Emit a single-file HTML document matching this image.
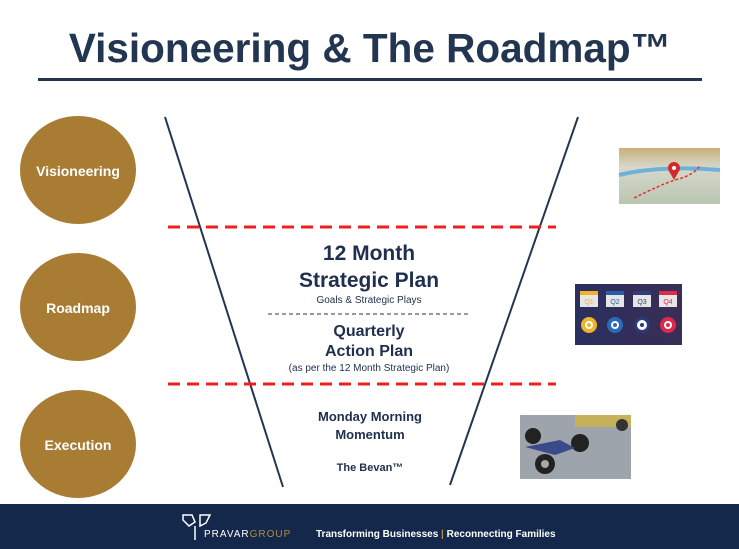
<!DOCTYPE html>
<html><head><meta charset="utf-8"><style>
html,body{margin:0;padding:0;background:#fff;}
body{width:739px;height:549px;overflow:hidden;position:relative;font-family:"Liberation Sans",sans-serif;}
</style></head><body>
<svg width="739" height="549" viewBox="0 0 739 549" xmlns="http://www.w3.org/2000/svg" style="position:absolute;left:0;top:0">
<defs>
<linearGradient id="q" x1="0" x2="1"><stop offset="0" stop-color="#2a2f5e"/><stop offset="1" stop-color="#3a2e55"/></linearGradient>
<linearGradient id="m" x1="0" y1="0" x2="0" y2="1"><stop offset="0" stop-color="#c9b078"/><stop offset="0.35" stop-color="#d6d8cc"/><stop offset="1" stop-color="#b9c6b0"/></linearGradient>
</defs>
<text x="370" y="62" text-anchor="middle" font-family="Liberation Sans" font-weight="bold" font-size="40.5" fill="#233651">Visioneering &amp; The Roadmap™</text>
<rect x="38" y="78" width="664" height="3" fill="#233651"/>

<g fill="#a97c34">
<ellipse cx="78" cy="170" rx="58" ry="54"/>
<ellipse cx="78" cy="307" rx="58" ry="54"/>
<ellipse cx="78" cy="444" rx="58" ry="54"/>
</g>
<g font-family="Liberation Sans" font-weight="bold" font-size="14" fill="#fff" text-anchor="middle">
<text x="78" y="176">Visioneering</text>
<text x="78" y="313">Roadmap</text>
<text x="78" y="450">Execution</text>
</g>

<line x1="165" y1="117" x2="283" y2="487" stroke="#233651" stroke-width="2"/>
<line x1="578" y1="117" x2="450" y2="485" stroke="#233651" stroke-width="2"/>
<line x1="168" y1="227" x2="556" y2="227" stroke="#f01e1e" stroke-width="3" stroke-dasharray="12,7"/>
<line x1="168" y1="384" x2="556" y2="384" stroke="#f01e1e" stroke-width="3" stroke-dasharray="12,7"/>
<line x1="268" y1="314" x2="468" y2="314" stroke="#233651" stroke-width="1" stroke-dasharray="4,3"/>

<g font-family="Liberation Sans" fill="#1f2f4d" text-anchor="middle">
<text x="369" y="260" font-size="21" font-weight="bold">12 Month</text>
<text x="369" y="287" font-size="21" font-weight="bold">Strategic Plan</text>
<text x="369" y="303" font-size="10">Goals &amp; Strategic Plays</text>
<text x="369" y="336" font-size="16" font-weight="bold">Quarterly</text>
<text x="369" y="356" font-size="16" font-weight="bold">Action Plan</text>
<text x="369" y="371" font-size="10">(as per the 12 Month Strategic Plan)</text>
<text x="370" y="421" font-size="13" font-weight="bold">Monday Morning</text>
<text x="370" y="439" font-size="13" font-weight="bold">Momentum</text>
<text x="370" y="471" font-size="11" font-weight="bold">The Bevan™</text>
</g>

<rect x="619" y="148" width="101" height="56" fill="url(#m)"/>
<path d="M619 175 Q660 165 720 170" stroke="#6fb0d8" stroke-width="4" fill="none"/>
<path d="M634 198 Q660 185 675 180 Q695 175 700 165" stroke="#d33" stroke-width="1.5" stroke-dasharray="3,2" fill="none"/>
<circle cx="674" cy="168" r="6" fill="#d42a2a"/><path d="M669 171 L674 180 L679 171Z" fill="#d42a2a"/><circle cx="674" cy="168" r="2" fill="#fff"/>

<rect x="575" y="284" width="107" height="61" fill="url(#q)"/>
<g font-family="Liberation Sans" font-size="7" text-anchor="middle">
<rect x="580" y="293" width="18" height="14" fill="#e6e6e6"/><rect x="580" y="291" width="18" height="4" fill="#f0b429"/><text x="589" y="304" fill="#f0b429">Q1</text><circle cx="589" cy="325" r="8" fill="#f0b429"/><circle cx="589" cy="325" r="4" fill="#fff"/><circle cx="589" cy="325" r="2" fill="#f0b429"/>
<rect x="606" y="293" width="18" height="14" fill="#e6e6e6"/><rect x="606" y="291" width="18" height="4" fill="#2a5ea8"/><text x="615" y="304" fill="#2a5ea8">Q2</text><circle cx="615" cy="325" r="8" fill="#2a6ab8"/><circle cx="615" cy="325" r="4" fill="#fff"/><circle cx="615" cy="325" r="2" fill="#2a6ab8"/>
<rect x="633" y="293" width="18" height="14" fill="#e6e6e6"/><rect x="633" y="291" width="18" height="4" fill="#2f3d7a"/><text x="642" y="304" fill="#2f3d7a">Q3</text><circle cx="642" cy="325" r="8" fill="#2b3a7a"/><circle cx="642" cy="325" r="5" fill="#fff"/><circle cx="642" cy="325" r="2" fill="#2b3a7a"/>
<rect x="659" y="293" width="18" height="14" fill="#e6e6e6"/><rect x="659" y="291" width="18" height="4" fill="#e0284a"/><text x="668" y="304" fill="#e0284a">Q4</text><circle cx="668" cy="325" r="8" fill="#e0284a"/><circle cx="668" cy="325" r="4" fill="#fff"/><circle cx="668" cy="325" r="2" fill="#e0284a"/>
</g>

<rect x="520" y="415" width="111" height="64" fill="#9ea4ac"/>
<rect x="575" y="415" width="56" height="12" fill="#c5b25a"/>
<circle cx="533" cy="436" r="8" fill="#222"/><circle cx="580" cy="443" r="9" fill="#222"/><circle cx="545" cy="464" r="10" fill="#222"/><circle cx="545" cy="464" r="4" fill="#aaa"/><circle cx="622" cy="425" r="6" fill="#333"/>
<path d="M525 447 L560 440 L575 448 L555 455Z" fill="#3a4a8a"/>

<rect x="0" y="504" width="739" height="45" fill="#13284a"/>
<path d="M183 515 L192 515 L195 522 L189 526 L183 520Z M200 515 L210 515 L206 523 L200 526Z M195 526 L195 540" stroke="#fff" stroke-width="1.5" fill="none"/>
<text x="204" y="537" font-family="Liberation Sans" font-size="10" fill="#fff" letter-spacing="1">PRAVAR<tspan fill="#b98a3a">GROUP</tspan></text>
<text x="316" y="537" font-family="Liberation Sans" font-size="10" font-weight="bold" fill="#fff">Transforming Businesses <tspan fill="#b98a3a">|</tspan> Reconnecting Families</text>
</svg>
</body></html>
